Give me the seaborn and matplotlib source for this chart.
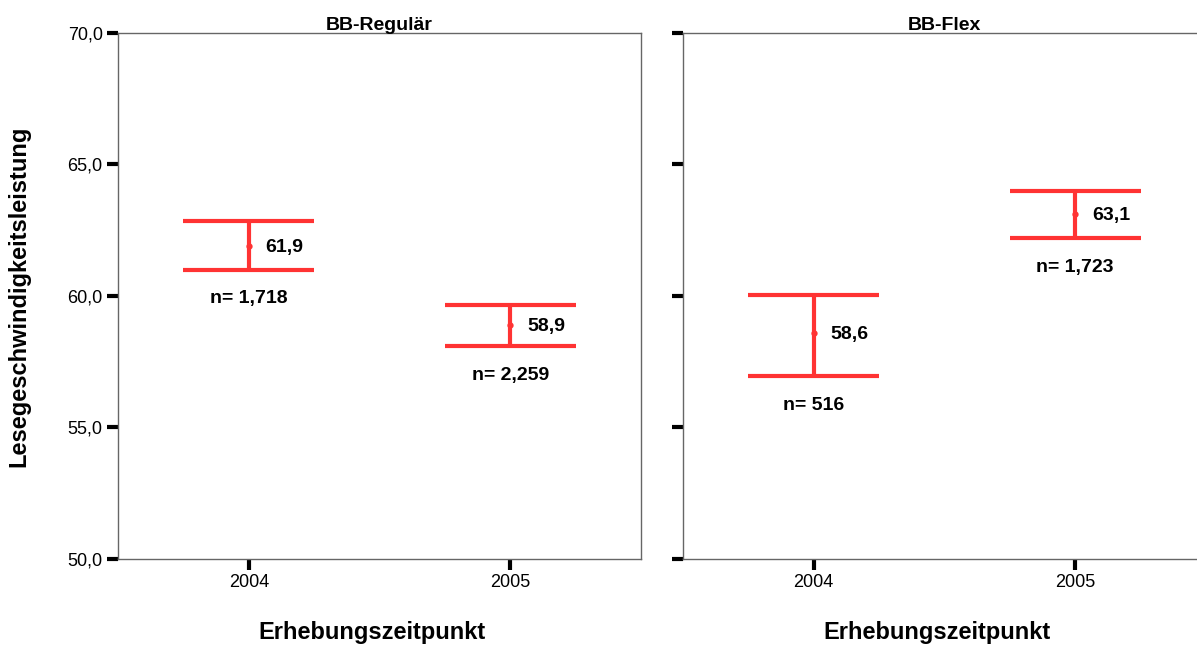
import matplotlib
matplotlib.use("Agg")
import matplotlib.pyplot as plt
import matplotlib.ticker as mticker
import seaborn as sns
import pandas as pd

sns.set_theme(style="white")
plt.rcParams["font.family"] = ["Liberation Sans", "DejaVu Sans"]
plt.rcParams["text.color"] = "black"
plt.rcParams["axes.labelcolor"] = "black"
plt.rcParams["xtick.color"] = "black"
plt.rcParams["ytick.color"] = "black"

years = ["2004", "2005"]
panels = ["BB-Regulär", "BB-Flex"]
reg_mean = [61.9, 58.9]
reg_low = [61.0, 58.1]
reg_high = [62.85, 59.66]
reg_n = ["n= 1,718", "n= 2,259"]
flex_mean = [58.6, 63.1]
flex_low = [56.96, 62.21]
flex_high = [60.04, 63.99]
flex_n = ["n= 516", "n= 1,723"]
yticks = [50, 55, 60, 65, 70]

RED = "#FF3333"
SPINE = "#666666"

fig = plt.figure(figsize=(11.97, 6.48), dpi=100)
W = 523 / 1197
H = (559 - 33) / 648
B = 1 - 559 / 648
ax1 = fig.add_axes([118 / 1197, B, W, H])
ax2 = fig.add_axes([683 / 1197, B, W, H])

def fmt(v):
    return f"{v:.1f}".replace(".", ",")

for ax, title, means, lows, highs, ns in [
    (ax1, panels[0], reg_mean, reg_low, reg_high, reg_n),
    (ax2, panels[1], flex_mean, flex_low, flex_high, flex_n),
]:
    rows = []
    for y, m, lo, hi in zip(years, means, lows, highs):
        for v in (lo, m, hi):
            rows.append({"year": y, "value": v})
    df = pd.DataFrame(rows)
    sns.pointplot(
        data=df, x="year", y="value", order=years, ax=ax,
        estimator="median", errorbar=lambda v: (v.min(), v.max()),
        capsize=0.5, linestyle="none", color=RED,
        markers="o", markersize=2.5,
        err_kws={"linewidth": 3, "color": RED, "solid_capstyle": "butt"},
    )
    for c in ax.collections:
        c.set_facecolor("#FF7777")
        c.set_edgecolor("#FF7777")
    for i, (m, lo) in enumerate(zip(means, lows)):
        ax.annotate(fmt(m), (i, m), xytext=(12, -1), textcoords="offset points",
                    ha="left", va="center", fontsize=14, fontweight="bold", color="black")
        ax.annotate(ns[i], (i, lo), xytext=(0, -21), textcoords="offset points",
                    ha="center", va="center", fontsize=14, fontweight="bold", color="black")
    ax.set_xlim(-0.5, 1.5)
    ax.set_ylim(50, 70)
    ax.set_yticks(yticks)
    ax.yaxis.set_major_formatter(mticker.FuncFormatter(lambda v, p: fmt(v)))
    ax.tick_params(axis="both", which="major", direction="out", length=8, width=3,
                   color="black", labelcolor="black", labelsize=13, pad=3,
                   left=True, bottom=True)
    for s in ax.spines.values():
        s.set_color(SPINE)
        s.set_linewidth(1)
    ax.set_title(title, fontsize=14, fontweight="bold", pad=2, color="black")
    ax.set_xlabel("Erhebungszeitpunkt", fontsize=17, fontweight="bold")
    ax.xaxis.set_label_coords(0.486, -0.118)
    ax.set_ylabel("")
    ax.grid(False)

ax1.set_ylabel("Lesegeschwindigkeitsleistung", fontsize=17, fontweight="bold", labelpad=27)
ax2.tick_params(axis="y", labelleft=False)

fig.savefig("out.png", dpi=100)
